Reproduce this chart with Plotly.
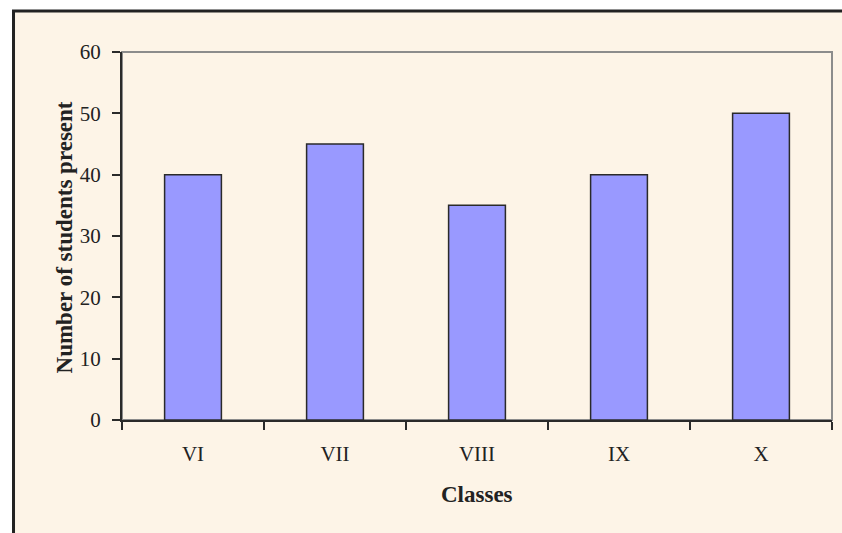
import plotly.graph_objects as go

classes = ["VI", "VII", "VIII", "IX", "X"]
students = [40, 45, 35, 40, 50]
y_ticks = [0, 10, 20, 30, 40, 50, 60]

fig = go.Figure()
fig.add_trace(go.Bar(
    x=classes, y=students,
    marker=dict(color="#9999FF", line=dict(color="#2a2a2a", width=1.5)),
    width=0.4,
))

font_family = "Liberation Serif, Times New Roman, serif"

fig.update_layout(
    width=842, height=533,
    margin=dict(l=122, r=10, t=52, b=113),
    paper_bgcolor="white",
    plot_bgcolor="rgba(0,0,0,0)",
    showlegend=False,
    font=dict(family=font_family, size=20, color="#222222"),
    xaxis=dict(
        type="category",
        showline=True, linecolor="#2a2a2a", linewidth=2,
        ticks="outside", tickson="boundaries", ticklen=8, tickwidth=2, tickcolor="#2a2a2a",
        showgrid=False, ticklabelstandoff=14,
        tickfont=dict(size=21),
    ),
    yaxis=dict(
        range=[0, 60], tickvals=y_ticks,
        showline=True, linecolor="#2a2a2a", linewidth=2,
        ticks="outside", ticklen=8, tickwidth=2, tickcolor="#2a2a2a",
        showgrid=False, zeroline=False, ticklabelstandoff=7,
        tickfont=dict(size=21),
    ),
    annotations=[
        dict(text="<b>Classes</b>", xref="paper", yref="paper", x=0.5, y=-0.2038,
             xanchor="center", yanchor="middle", showarrow=False, font=dict(size=23)),
        dict(text="<b>Number of students present</b>", xref="paper", yref="paper",
             x=-0.0817, y=0.496, textangle=-90,
             xanchor="center", yanchor="middle", showarrow=False, font=dict(size=23)),
    ],
    shapes=[
        dict(type="rect", xref="paper", yref="paper", layer="below",
             x0=-0.1528, x1=1.2, y0=-0.6, y1=1.1117,
             fillcolor="#FDF4E7", line=dict(color="#222222", width=3)),
        dict(type="rect", xref="paper", yref="paper", layer="below",
             x0=0, x1=1, y0=0, y1=1,
             fillcolor="rgba(0,0,0,0)", line=dict(color="#8c8c8c", width=2)),
    ],
)

fig.write_html("out.html", config={"displayModeBar": False},
               post_script="document.body.style.margin='0';document.body.style.overflow='hidden';")
